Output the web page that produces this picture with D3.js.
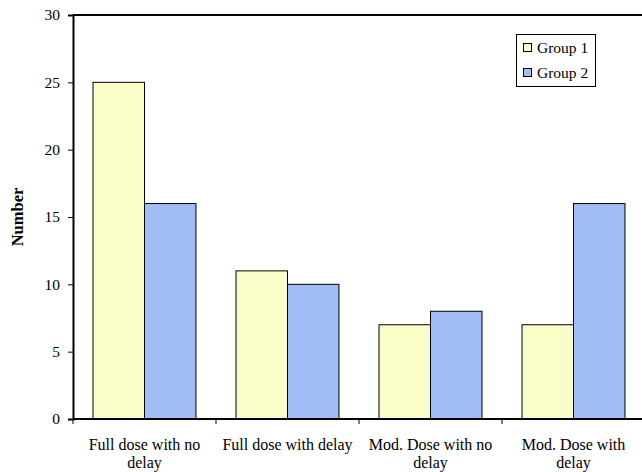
<!DOCTYPE html>
<html><head><meta charset="utf-8">
<script src="https://cdn.jsdelivr.net/npm/d3@7"></script>
<style>body{margin:0;background:#fff}svg{display:block}text{font-family:'Liberation Serif','Times New Roman',Times,serif}</style>
</head><body><svg id="c" width="642" height="472"></svg>
<script>
const categories = [["Full dose with no","delay"],["Full dose with delay"],["Mod. Dose with no","delay"],["Mod. Dose with","delay"]];
const seriesNames = ["Group 1","Group 2"];
const group1 = [25, 11, 7, 7];
const group2 = [16, 10, 8, 16];
const yTicks = [0,5,10,15,20,25,30];
const colors = ["#FBFDC8","#A0BDF8"];
const FONT = "Liberation Serif, Times New Roman, serif";

const svg = d3.select("#c");
const L = 73, R = 645, T = 15, B = 419;
const keys = categories.map((c,i)=>i);
const x = d3.scaleBand().domain(keys).range([L,R]).paddingInner(0.28).paddingOuter(0.14);
const x1 = d3.scaleBand().domain([0,1]).range([0,x.bandwidth()]);
const y = d3.scaleLinear().domain([0,30]).range([B,T]);

const data = [group1, group2];
data.forEach((s,si)=>{
  svg.append("g").selectAll("rect").data(s).join("rect")
    .attr("x",(d,i)=>x(i)+x1(si))
    .attr("y",d=>y(d))
    .attr("width",x1.bandwidth())
    .attr("height",d=>y(0)-y(d))
    .attr("fill",colors[si])
    .attr("stroke","#000").attr("stroke-width",1);
});

const ya = svg.append("g").attr("transform",`translate(${L},0)`)
  .call(d3.axisLeft(y).tickValues(yTicks).tickSize(5).tickPadding(8));
ya.attr("font-family",FONT).attr("font-size",15.5);
ya.select(".domain").attr("stroke","#000").attr("stroke-width",2);
ya.selectAll("text").attr("font-size",15.5).attr("font-family",FONT).attr("fill","#000");

svg.append("line").attr("x1",L).attr("x2",R).attr("y1",y(30)).attr("y2",y(30)).attr("stroke","#000").attr("stroke-width",2);

svg.append("line").attr("x1",L).attr("x2",R).attr("y1",B).attr("y2",B).attr("stroke","#000").attr("stroke-width",2);
const bounds = keys.map(i=>x(i)-x.step()*0.14);
svg.append("g").selectAll("line").data(bounds).join("line")
  .attr("x1",d=>d).attr("x2",d=>d).attr("y1",B).attr("y2",B+5).attr("stroke","#000");

const lab = svg.append("g").attr("font-size",16).attr("font-family",FONT).attr("text-anchor","middle");
categories.forEach((c,i)=>{
  const cx = x(i)+x.bandwidth()/2;
  c.forEach((line,li)=>{
    lab.append("text").attr("x",cx).attr("y",450+li*18).attr("font-family",FONT).text(line);
  });
});

svg.append("text").attr("transform",`translate(23,217) rotate(-90)`).attr("font-family",FONT)
  .attr("text-anchor","middle").attr("font-size",16.5).attr("font-weight","bold").text("Number");

const lg = svg.append("g");
lg.append("rect").attr("x",516.5).attr("y",34.5).attr("width",79).attr("height",52).attr("fill","#fff").attr("stroke","#000");
seriesNames.forEach((n,i)=>{
  lg.append("rect").attr("x",523.5).attr("y",43.5+i*25).attr("width",8).attr("height",8).attr("fill",colors[i]).attr("stroke","#000");
  lg.append("text").attr("x",537).attr("y",53+i*24.5).attr("font-family",FONT).attr("font-size",15.5).text(n);
});
</script></body></html>
